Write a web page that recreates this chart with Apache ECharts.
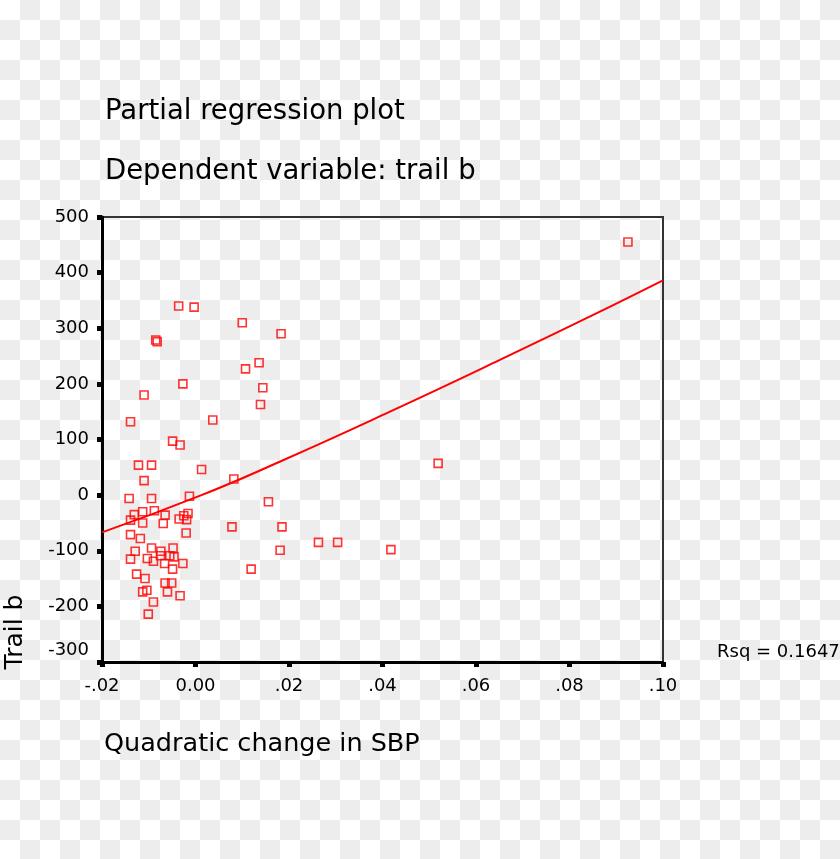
<!DOCTYPE html>
<html>
<head>
<meta charset="utf-8">
<script src="https://cdn.jsdelivr.net/npm/echarts@6/dist/echarts.min.js"></script>
<style>
html,body{margin:0;padding:0;width:840px;height:859px;overflow:hidden;
background-color:#fff;
background-image:conic-gradient(#ededed 25%, #ffffff 0 50%, #ededed 0 75%, #ffffff 0);
background-size:40px 40px;}
#chart{width:840px;height:859px;}
</style>
</head>
<body>
<div id="chart"></div>
<script>
// Scatter points: Quadratic change in SBP (x) vs Trail b (y)
const xVals = [-0.0036, -0.0003, 0.0100, 0.0183, -0.0085, -0.0082, 0.0107, 0.0136, -0.0027, 0.0144,
  -0.0110, 0.0139, -0.0139, 0.0037, -0.0049, -0.0033, -0.0122, -0.0094, 0.0013, -0.0110,
  0.0082, -0.0142, -0.0094, -0.0013, 0.0156, -0.0131, -0.0139, -0.0113, -0.0113, -0.0088,
  -0.0065, -0.0069, -0.0035, -0.0025, -0.0016, -0.0019, 0.0078, -0.0020, -0.0139, -0.0118,
  0.0185, 0.0119, 0.0181, -0.0129, -0.0139, -0.0094, -0.0074, -0.0048, -0.0103, -0.0090,
  -0.0075, -0.0055, -0.0046, -0.0066, -0.0027, -0.0049, -0.0126, -0.0108, -0.0065, -0.0051,
  -0.0113, -0.0104, -0.0060, -0.0033, -0.0090, -0.0101, 0.0263, 0.0304, 0.0418, 0.0519,
  0.0925];
const yVals = [340, 338, 310, 290, 279, 276, 227, 238, 200, 193,
  180, 163, 132, 135, 97, 90, 54, 54, 46, 26,
  29, -6, -6, -2, -12, -35, -45, -30, -50, -28,
  -36, -51, -43, -37, -33, -44, -57, -68, -71, -78,
  -57, -133, -99, -101, -115, -95, -101, -95, -114, -119,
  -109, -109, -111, -123, -123, -133, -142, -150, -158, -158,
  -174, -171, -174, -181, -192, -214, -85, -85, -98, 57,
  455];
// Fit line as drawn in the reference
const fitX = [-0.02, 0.001, 0.018, 0.0416, 0.0651, 0.0887, 0.10];
const fitY = [-67, -1, 60, 150, 243, 339, 386];
// Axis settings
const xMin = -0.02, xMax = 0.10, xStep = 0.02;
const yMin = -300, yMax = 500, yStep = 100;

const FONT = 'DejaVu Sans';
const chart = echarts.init(document.getElementById('chart'), null, {renderer: 'canvas'});
const pts = xVals.map((x, i) => [x, yVals[i]]);
const fit = fitX.map((x, i) => [x, fitY[i]]);

chart.setOption({
  backgroundColor: 'transparent',
  animation: false,
  title: [
    {text: 'Partial regression plot', left: 100, top: 91,
     textStyle: {fontFamily: FONT, fontSize: 27.5, fontWeight: 'normal', color: '#000', lineHeight: 32}},
    {text: 'Dependent variable: trail b', left: 100, top: 151,
     textStyle: {fontFamily: FONT, fontSize: 27.5, fontWeight: 'normal', color: '#000', lineHeight: 32}},
    {text: 'Quadratic change in SBP', left: 99, top: 723,
     textStyle: {fontFamily: FONT, fontSize: 25.5, fontWeight: 'normal', color: '#000', lineHeight: 32}},
    {text: 'Rsq = 0.1647', left: 712, top: 637,
     textStyle: {fontFamily: FONT, fontSize: 18, fontWeight: 'normal', color: '#000', lineHeight: 20}}
  ],
  graphic: [
    {type: 'text', x: 15, y: 632, rotation: Math.PI / 2,
     style: {text: 'Trail b', fontFamily: FONT, fontSize: 25, fill: '#000', align: 'center', verticalAlign: 'middle'}}
  ],
  grid: {left: 102, right: 177, top: 217, bottom: 197, show: true,
         borderColor: '#333', borderWidth: 2, backgroundColor: 'transparent'},
  xAxis: {
    type: 'value', min: xMin, max: xMax, interval: xStep,
    splitLine: {show: false},
    axisLine: {onZero: false, lineStyle: {color: '#000', width: 3}},
    axisTick: {show: true, length: 5, lineStyle: {color: '#000', width: 5}},
    axisLabel: {margin: 15, color: '#000', fontFamily: FONT, fontSize: 18,
      formatter: v => {
        if (Math.abs(v) < 1e-9) return '0.00';
        const s = Math.abs(v).toFixed(2).replace(/^0/, '');
        return (v < 0 ? '-' : '') + s;
      }}
  },
  yAxis: {
    type: 'value', min: yMin, max: yMax, interval: yStep,
    splitLine: {show: false},
    axisLine: {onZero: false, lineStyle: {color: '#000', width: 3}},
    axisTick: {show: true, length: 5, lineStyle: {color: '#000', width: 5}},
    axisLabel: {margin: 13, color: '#000', fontFamily: FONT, fontSize: 18,
      formatter: v => (v === yMin ? '{lo|' + v + '}' : String(v)),
      rich: {lo: {fontFamily: FONT, fontSize: 18, color: '#000', padding: [0, 0, 24, 0]}}}
  },
  series: [
    {type: 'scatter', data: pts, symbol: 'rect', symbolSize: 8,
     itemStyle: {color: 'rgba(255,255,255,0)', borderColor: '#ff0000', borderWidth: 1.6}, z: 3},
    {type: 'line', data: fit, showSymbol: false, smooth: true,
     lineStyle: {color: '#ff0000', width: 2}, z: 2}
  ]
});
</script>
</body>
</html>
